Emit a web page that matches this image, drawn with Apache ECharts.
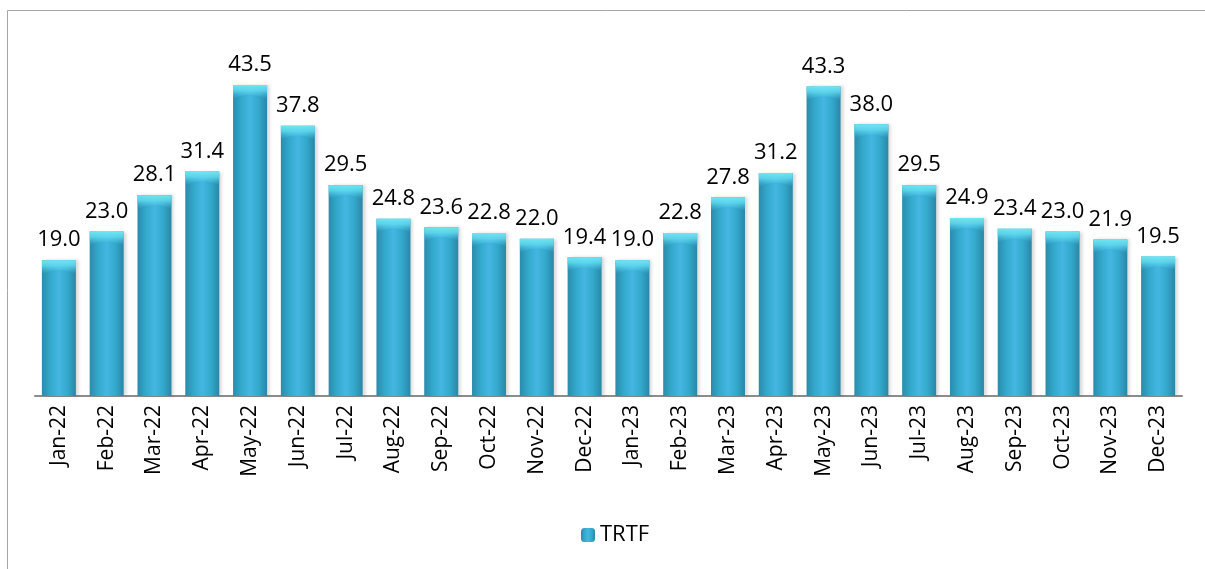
<!DOCTYPE html>
<html>
<head>
<meta charset="utf-8">
<script src="https://cdn.jsdelivr.net/npm/echarts@6/dist/echarts.min.js"></script>
<style>
  html, body { margin: 0; padding: 0; background: #fff; }
  #chart { width: 1205px; height: 569px; }
</style>
</head>
<body>
<div id="chart"></div>
<script>
// 月份类别
const months = [
  'Jan-22', 'Feb-22', 'Mar-22', 'Apr-22', 'May-22', 'Jun-22',
  'Jul-22', 'Aug-22', 'Sep-22', 'Oct-22', 'Nov-22', 'Dec-22',
  'Jan-23', 'Feb-23', 'Mar-23', 'Apr-23', 'May-23', 'Jun-23',
  'Jul-23', 'Aug-23', 'Sep-23', 'Oct-23', 'Nov-23', 'Dec-23'
]
// TRTF 数值
const trtf = [
  19.0, 23.0, 28.1, 31.4, 43.5, 37.8, 29.5, 24.8, 23.6, 22.8, 22.0, 19.4,
  19.0, 22.8, 27.8, 31.2, 43.3, 38.0, 29.5, 24.9, 23.4, 23.0, 21.9, 19.5
]

const font = 'Open Sans'

// 柱体横向渐变，模拟圆柱效果
const barColor = new echarts.graphic.LinearGradient(0, 0, 1, 0, [
  { offset: 0, color: '#2b8bab' },
  { offset: 0.25, color: '#33a9cc' },
  { offset: 0.5, color: '#45b6e2' },
  { offset: 0.75, color: '#33a9cc' },
  { offset: 1, color: '#2a86a6' }
])
// 柱顶高光
const capColor = new echarts.graphic.LinearGradient(0, 0, 0, 1, [
  { offset: 0, color: 'rgba(110,230,242,1)' },
  { offset: 0.4, color: 'rgba(100,220,240,0.8)' },
  { offset: 1, color: 'rgba(69,182,226,0)' }
])

const myChart = echarts.init(document.getElementById('chart'))
myChart.setOption({
  animation: false,
  graphic: [
    {
      type: 'rect',
      shape: { x: 7.5, y: 10.5, width: 1210, height: 570 },
      style: { fill: 'none', stroke: '#a6a6a6', lineWidth: 1 },
      silent: true
    }
  ],
  grid: { left: 35, right: 23, top: 10, bottom: 173 },
  legend: {
    data: ['TRTF'],
    bottom: 18,
    left: 576,
    itemWidth: 14,
    itemHeight: 14,
    itemGap: 6,
    textStyle: { fontFamily: font, fontSize: 22, color: '#000' }
  },
  xAxis: {
    type: 'category',
    data: months,
    axisLine: { lineStyle: { color: '#8c8c8c', width: 2 } },
    axisTick: { show: false },
    axisLabel: {
      rotate: 90,
      margin: 9,
      interval: 0,
      fontFamily: font,
      fontSize: 21,
      color: '#000'
    }
  },
  yAxis: {
    type: 'value',
    min: 0,
    max: 54,
    show: false,
    splitLine: { show: false }
  },
  series: [
    {
      name: 'TRTF',
      type: 'bar',
      data: trtf,
      barWidth: 34,
      itemStyle: {
        color: barColor,
        shadowColor: 'rgba(0,0,0,0.15)',
        shadowBlur: 3,
        shadowOffsetX: 3
      },
      label: {
        show: true,
        position: 'top',
        distance: 9,
        formatter: p => p.value.toFixed(1),
        fontFamily: font,
        fontSize: 22,
        color: '#000'
      }
    },
    {
      type: 'pictorialBar',
      data: trtf,
      symbol: 'path://M0,0 L10,0 L10,10 Q5,4 0,10 Z',
      symbolSize: [34, 14],
      symbolPosition: 'end',
      symbolOffset: [0, 0],
      itemStyle: { color: capColor },
      silent: true,
      z: 3
    }
  ]
})
</script>
</body>
</html>
